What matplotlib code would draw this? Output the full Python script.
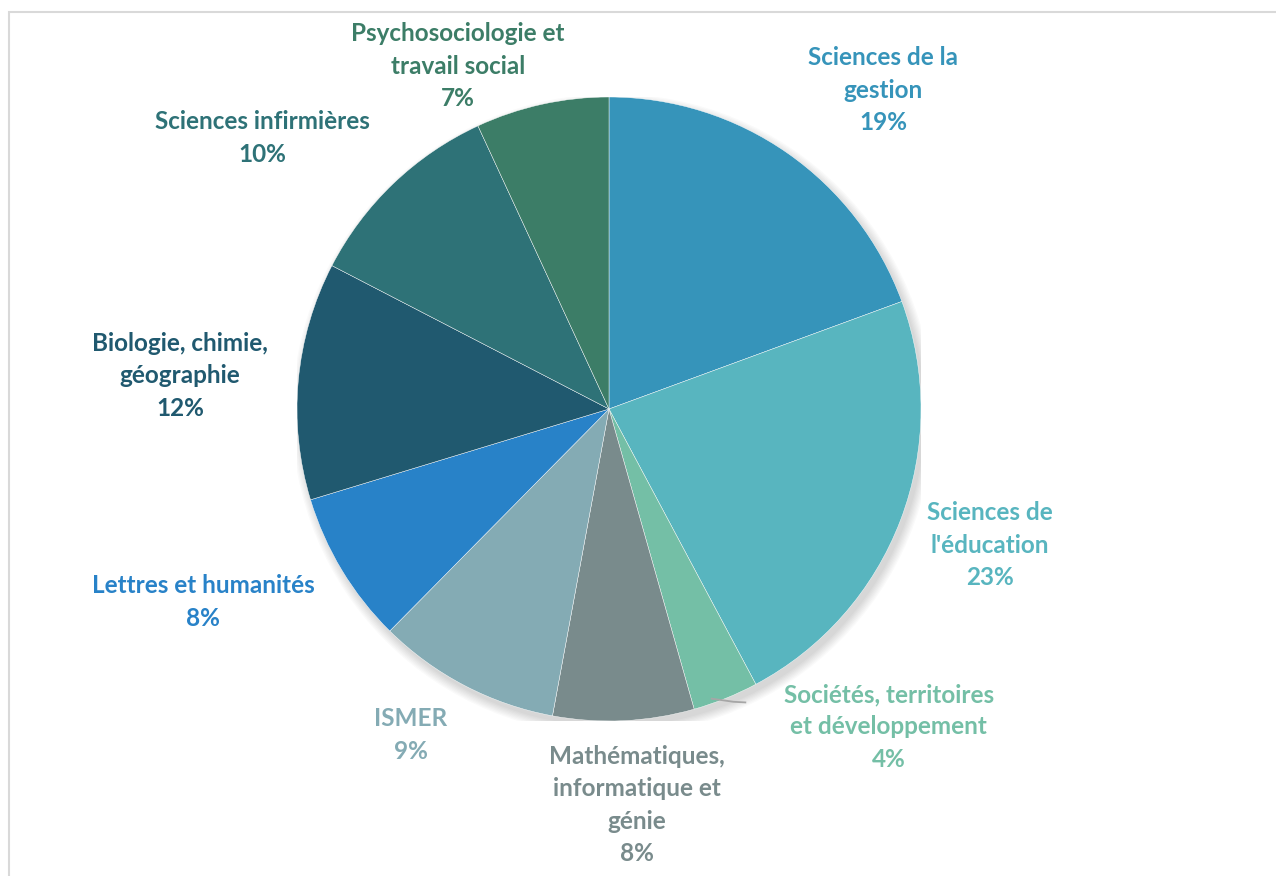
import matplotlib.pyplot as plt
import matplotlib.patches as patches
import numpy as np

plt.rcParams['font.family'] = ['Lato', 'DejaVu Sans']

# slice shares (percent), clockwise from 12 o'clock
categories = ["Sciences de la\ngestion", "Sciences de\nl'éducation",
              "Sociétés, territoires\net développement",
              "Mathématiques,\ninformatique et\ngénie", "ISMER",
              "Lettres et humanités", "Biologie, chimie,\ngéographie",
              "Sciences infirmières", "Psychosociologie et\ntravail social"]
shares = [19.4, 22.8, 3.4, 7.3, 9.5, 7.9, 12.3, 10.5, 6.9]
pct_labels = ["19%", "23%", "4%", "8%", "9%", "8%", "12%", "10%", "7%"]

colors = ['#3694BA', '#58B5BF', '#74BFA6', '#798B8C', '#84ABB4',
          '#2882C8', '#20596F', '#2E7277', '#3C7D67']

# label centres in pie-radius units
lab_pos = [(0.878, 1.022), (1.221, -0.436), (0.897, -1.019), (0.090, -1.269),
           (-0.635, -1.045), (-1.301, -0.619), (-1.375, 0.106),
           (-1.112, 0.869), (-0.484, 1.099)]

fig = plt.figure(figsize=(12.76, 8.76), dpi=100)
W, H = 1276.0, 876.0
cx, cy, r = 609.0, 409.0, 312.0
ax = fig.add_axes([(cx - r) / W, (H - cy - r) / H, 2 * r / W, 2 * r / H])

# soft shadow under the pie
for k in range(8):
    ax.add_patch(patches.Circle((0.012, -0.018), 1.0 + 0.004 * k,
                                color='black', alpha=0.018, lw=0, zorder=0))

wedges, _ = ax.pie(shares, colors=colors, startangle=90, counterclock=False,
                   radius=1.0, wedgeprops=dict(edgecolor='white', linewidth=0.3))
for w in wedges:
    w.set_zorder(2)
ax.set_xlim(-1, 1)
ax.set_ylim(-1, 1)
ax.axis('off')

for i, (name, pct) in enumerate(zip(categories, pct_labels)):
    x, y = lab_pos[i]
    ax.text(x, y, name + "\n" + pct, ha='center', va='center', color=colors[i],
            fontsize=17.5, fontweight='bold', linespacing=1.5, clip_on=False,
            zorder=5)

# leader line for the small slice
w = wedges[2]
t_lo, t_hi = sorted([w.theta1, w.theta2])
a = np.deg2rad(t_lo + 0.3 * (t_hi - t_lo))
x0, y0 = np.cos(a) * 0.985, np.sin(a) * 0.985
lx, ly = lab_pos[2]
ax.plot([x0, x0 + 0.07, lx - 0.46], [y0, y0 - 0.01, y0 - 0.012],
        color='#A6A6A6', lw=1.3, clip_on=False, zorder=4)

# chart frame
fig.patches.append(patches.Rectangle((8.5 / W, -0.05), 1.2, (H - 12.5) / H + 0.05,
                                     transform=fig.transFigure, fill=False,
                                     edgecolor='#D9D9D9', lw=1.5))

fig.savefig('out.png', dpi=100)
